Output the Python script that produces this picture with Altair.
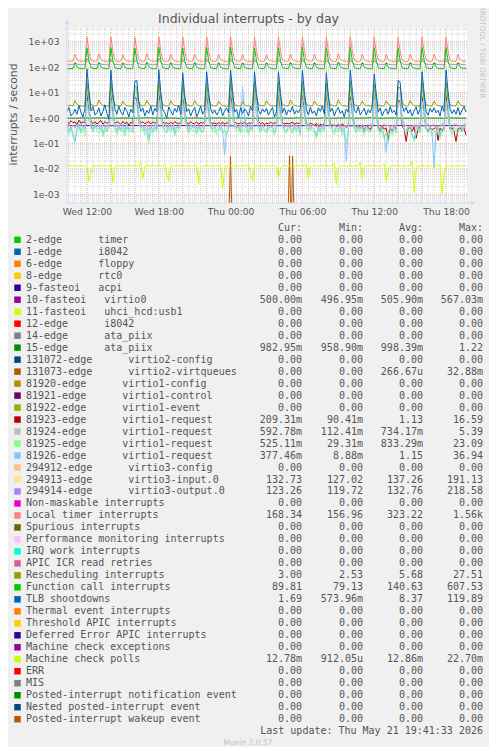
import altair as alt
import pandas as pd

# ---------------- time base (hours since Wed 00:00) ----------------
T0 = 10 + 20 / 60          # first sample Wed 10:20
STEP = 1 / 6               # 10-minute samples
N = 201
X_DOMAIN = [10 + 20 / 60, 43.75]
Y_DOMAIN = [4.55e-4, 3459]
X_TICKS = [12, 18, 24, 30, 36, 42]
Y_TICKS = [1e-3, 1e-2, 1e-1, 1e0, 1e1, 1e2, 1e3]

# ---------------- series (10-min grid) ----------------
LOCAL_TIMER = [
    172, 170, 174, 171,
    320, 195, 174, 171, 169, 172,
    1480, 430, 188, 173, 170, 168,
    335, 198, 176, 170, 172, 169,
    1520, 410, 185, 171, 169, 170,
    310, 192, 175, 172, 170, 168,
    1450, 450, 190, 174, 171, 169,
    340, 200, 176, 171, 168, 170,
    1540, 420, 186, 172, 170, 167,
    325, 196, 174, 170, 169, 171,
    1490, 440, 187, 173, 169, 168,
    330, 199, 175, 171, 170, 169,
    1510, 425, 184, 172, 168, 170,
    320, 195, 176, 170, 169, 168,
    1560, 445, 189, 174, 170, 169,
    315, 190, 173, 170, 168, 167,
    1470, 415, 185, 171, 169, 170,
    310, 193, 174, 171, 168, 169,
    1500, 430, 186, 172, 170, 168,
    330, 198, 175, 170, 169, 171,
    1530, 440, 188, 173, 170, 169,
    325, 196, 174, 171, 168, 170,
    1480, 420, 185, 172, 169, 168,
    340, 200, 176, 172, 170, 169,
    1510, 435, 187, 171, 169, 170,
    320, 194, 175, 170, 168, 169,
    1490, 425, 186, 172, 170, 168,
    315, 192, 174, 171, 169, 170,
    1460, 410, 184, 171, 168, 169,
    330, 197, 175, 170, 169, 168,
    1520, 445, 188, 173, 170, 169,
    325, 195, 174, 171, 168, 170,
    1500, 430, 186, 172, 169, 168,
    320, 196, 175, 170, 168,
]

FUNCTION_CALL = [
    88, 86, 89, 87,
    150, 101, 91, 88, 86, 88,
    575, 182, 96, 90, 88, 87,
    155, 103, 92, 89, 87, 88,
    590, 178, 95, 89, 87, 86,
    148, 100, 90, 88, 87, 89,
    560, 190, 98, 91, 88, 87,
    158, 104, 92, 88, 86, 88,
    600, 185, 95, 90, 87, 86,
    150, 101, 91, 88, 87, 88,
    570, 180, 96, 89, 88, 87,
    152, 102, 90, 88, 86, 87,
    585, 183, 95, 90, 87, 88,
    149, 100, 91, 87, 86, 88,
    607, 188, 97, 90, 88, 86,
    146, 99, 90, 88, 87, 87,
    565, 179, 95, 89, 87, 88,
    151, 102, 91, 88, 86, 87,
    580, 184, 96, 90, 88, 87,
    156, 103, 92, 89, 87, 88,
    595, 186, 97, 90, 87, 86,
    150, 101, 90, 88, 86, 88,
    570, 181, 95, 89, 88, 87,
    160, 105, 92, 88, 87, 88,
    588, 184, 96, 90, 87, 86,
    149, 100, 91, 88, 86, 87,
    575, 182, 95, 89, 88, 87,
    147, 99, 90, 88, 87, 88,
    555, 176, 94, 89, 87, 86,
    153, 102, 91, 88, 86, 87,
    598, 188, 97, 90, 88, 87,
    151, 101, 90, 88, 87, 88,
    585, 183, 96, 90, 87, 88,
    150, 102, 91, 89, 90,
]

VIRTIO3_INPUT = [
    134, 133, 135, 134,
    152, 139, 135, 134, 133, 133,
    186, 146, 137, 134, 133, 134,
    150, 138, 135, 133, 134, 133,
    183, 145, 136, 134, 133, 133,
    153, 139, 134, 133, 133, 134,
    176, 168, 140, 135, 134, 133,
    151, 138, 135, 134, 133, 133,
    191, 147, 137, 134, 133, 134,
    149, 138, 135, 133, 133, 134,
    180, 144, 136, 134, 133, 133,
    152, 139, 135, 134, 133, 133,
    184, 146, 136, 134, 134, 133,
    150, 138, 135, 133, 133, 134,
    188, 147, 137, 134, 133, 133,
    148, 137, 134, 133, 133, 134,
    182, 145, 136, 134, 133, 133,
    151, 138, 135, 133, 133, 134,
    183, 146, 136, 134, 133, 133,
    153, 139, 135, 134, 133, 133,
    187, 147, 137, 134, 133, 134,
    150, 138, 135, 133, 133, 133,
    181, 144, 136, 134, 133, 134,
    154, 140, 135, 134, 133, 133,
    185, 146, 137, 134, 133, 133,
    149, 138, 134, 133, 133, 134,
    179, 143, 136, 133, 133, 133,
    150, 138, 135, 134, 133, 133,
    172, 165, 139, 135, 134, 133,
    151, 139, 135, 133, 133, 134,
    186, 147, 137, 134, 133, 133,
    150, 138, 135, 134, 133, 133,
    184, 145, 136, 134, 133, 134,
    150, 138, 134, 133, 133,
]

VIRTIO3_OUTPUT = [
    124, 123, 125, 124,
    150, 131, 125, 124, 123, 124,
    212, 156, 129, 125, 124, 123,
    152, 132, 126, 124, 123, 124,
    205, 152, 128, 125, 124, 124,
    148, 130, 125, 124, 123, 123,
    190, 182, 140, 127, 124, 124,
    153, 132, 126, 124, 124, 123,
    218, 158, 129, 125, 124, 123,
    149, 131, 125, 124, 123, 124,
    200, 150, 128, 125, 124, 124,
    151, 131, 125, 124, 123, 123,
    207, 154, 129, 125, 124, 124,
    150, 130, 125, 124, 123, 124,
    215, 158, 130, 125, 124, 123,
    147, 130, 125, 124, 123, 124,
    203, 152, 128, 125, 124, 123,
    152, 131, 126, 124, 123, 124,
    206, 154, 128, 125, 124, 124,
    153, 132, 125, 124, 123, 123,
    211, 157, 129, 125, 124, 124,
    149, 130, 125, 124, 123, 124,
    201, 150, 128, 124, 124, 123,
    155, 133, 126, 124, 123, 124,
    209, 155, 129, 125, 124, 123,
    148, 130, 125, 124, 123, 124,
    198, 149, 127, 125, 124, 123,
    150, 131, 125, 124, 123, 124,
    186, 178, 138, 126, 124, 123,
    151, 131, 125, 124, 123, 124,
    213, 157, 129, 125, 124, 124,
    150, 130, 125, 124, 123, 123,
    207, 154, 128, 125, 124, 123,
    151, 131, 125, 124, 123,
]

RESCHEDULING = [
    3.1, 3.0, 3.2, 3.0,
    4.8, 3.5, 3.1, 3.0, 2.9, 3.0,
    26, 6.3, 3.4, 3.1, 3.0, 3.1,
    5.0, 3.6, 3.1, 3.0, 3.0, 2.9,
    24, 6.0, 3.3, 3.1, 3.0, 3.0,
    4.6, 3.4, 3.1, 3.0, 2.9, 3.0,
    18, 16, 4.5, 3.2, 3.0, 3.1,
    4.9, 3.5, 3.1, 3.0, 3.0, 2.9,
    27.5, 6.5, 3.4, 3.1, 3.0, 3.0,
    4.7, 3.5, 3.1, 3.0, 2.9, 3.0,
    22, 5.8, 3.3, 3.1, 3.0, 3.1,
    4.8, 3.4, 3.1, 3.0, 3.0, 2.9,
    25, 6.1, 3.3, 3.1, 3.0, 3.0,
    4.6, 3.5, 3.1, 3.0, 2.9, 3.0,
    27, 6.4, 3.4, 3.1, 3.0, 3.0,
    4.5, 3.4, 3.0, 3.0, 2.9, 3.0,
    24, 6.0, 3.3, 3.1, 3.0, 3.1,
    4.8, 3.5, 3.1, 3.0, 3.0, 2.9,
    25, 6.2, 3.4, 3.1, 3.0, 3.0,
    5.1, 3.6, 3.1, 3.0, 2.9, 3.0,
    26, 6.3, 3.4, 3.1, 3.0, 3.0,
    4.7, 3.4, 3.1, 3.0, 3.0, 2.9,
    23, 5.9, 3.3, 3.1, 3.0, 3.0,
    5.2, 3.6, 3.1, 3.0, 2.9, 3.0,
    25, 6.2, 3.3, 3.1, 3.0, 3.1,
    4.6, 3.4, 3.1, 3.0, 3.0, 2.9,
    21, 5.6, 3.2, 3.0, 3.0, 3.0,
    4.7, 3.5, 3.1, 3.0, 2.9, 3.0,
    17, 15, 4.2, 3.2, 3.0, 3.0,
    4.8, 3.5, 3.1, 3.0, 3.0, 2.9,
    26, 6.3, 3.4, 3.1, 3.0, 3.0,
    4.6, 3.4, 3.1, 3.0, 2.9, 3.0,
    25, 6.1, 3.3, 3.1, 3.0, 3.0,
    4.7, 3.4, 3.1, 3.0, 3.0,
]

TLB = [
    1.8, 2.6, 1.2, 1.5,
    2.2, 1.4, 3.1, 1.7, 1.1, 2.4,
    85, 12, 1.9, 2.8, 1.3, 1.6,
    2.5, 1.2, 1.8, 3.3, 1.5, 0.9,
    77, 9, 2.3, 1.4, 2.9, 1.7,
    1.3, 2.6, 1.9, 1.1, 2.2, 1.6,
    28, 30, 4, 1.8, 2.5, 1.2,
    2.0, 1.5, 3.0, 1.3, 2.4, 1.8,
    80, 11, 2.1, 1.6, 1.0, 2.7,
    1.9, 1.3, 2.4, 1.7, 3.2, 1.4,
    60, 8, 1.8, 2.3, 1.2, 1.9,
    2.6, 1.1, 1.7, 2.9, 1.4, 2.0,
    66, 10, 2.4, 1.5, 2.1, 1.3,
    1.8, 2.7, 1.2, 1.9, 2.5, 1.6,
    77, 12, 1.7, 2.2, 1.0, 2.6,
    1.5, 2.3, 1.8, 1.2, 2.8, 1.9,
    66, 9, 2.0, 1.4, 2.3, 1.7,
    2.4, 1.3, 1.9, 2.6, 1.1, 1.8,
    66, 10, 1.6, 2.5, 1.3, 2.1,
    1.7, 2.9, 1.4, 2.0, 1.6, 2.4,
    77, 11, 2.2, 1.3, 2.7, 1.5,
    1.9, 1.2, 2.5, 1.8, 3.0, 1.4,
    60, 8, 1.8, 2.4, 1.2, 2.0,
    2.6, 1.5, 1.9, 1.1, 2.3, 1.7,
    77, 12, 2.0, 1.6, 2.8, 1.3,
    1.8, 2.4, 1.3, 2.1, 1.6, 2.9,
    54, 9, 1.7, 2.5, 1.2, 1.9,
    2.3, 1.4, 2.8, 1.6, 2.0, 1.3,
    31, 25, 3, 1.8, 2.6, 1.5,
    2.1, 1.2, 1.9, 2.7, 1.4, 2.2,
    66, 10, 1.8, 1.3, 2.4, 1.7,
    2.5, 1.6, 2.0, 1.2, 2.9, 1.8,
    77, 11, 2.3, 1.5, 2.1, 1.4,
    2.6, 1.3, 2.0, 2.8, 1.7,
]

REQ_81923 = [
    0.72, 0.6, 0.78, 0.65,
    0.7, 0.55, 0.82, 0.62, 0.7, 0.66,
    9.5, 2.1, 0.75, 0.6, 0.72, 0.58,
    0.68, 0.8, 0.56, 0.72, 0.6, 0.74,
    8.2, 1.6, 0.62, 0.7, 0.66, 0.55,
    0.74, 0.6, 0.7, 0.52, 0.68, 0.61,
    6.5, 5.8, 0.9, 0.64, 0.7, 0.6,
    0.66, 0.72, 0.58, 0.7, 0.63, 0.68,
    11, 2.4, 0.7, 0.6, 0.66, 0.57,
    0.7, 0.58, 0.72, 0.64, 0.6, 0.69,
    7.5, 1.8, 0.66, 0.58, 0.72, 0.62,
    0.6, 0.7, 0.55, 0.68, 0.62, 0.7,
    8.8, 2.0, 0.68, 0.6, 0.64, 0.57,
    0.66, 0.6, 0.7, 0.58, 0.65, 0.62,
    9.2, 2.2, 0.7, 0.62, 0.58, 0.66,
    0.6, 0.68, 0.55, 0.64, 0.6, 0.7,
    16, 3.0, 0.72, 0.6, 0.66, 0.55,
    0.64, 0.58, 0.7, 0.6, 0.66, 0.6,
    8.0, 1.9, 0.66, 0.58, 0.62, 0.6,
    0.62, 0.7, 0.56, 0.64, 0.6, 0.66,
    7.8, 1.7, 0.6, 0.55, 0.62, 0.58,
    0.5, 0.62, 0.45, 0.58, 0.52, 0.6,
    9.0, 2.0, 0.58, 0.5, 0.55, 0.48,
    0.55, 0.46, 0.6, 0.5, 0.42, 0.56,
    6.8, 1.5, 0.5, 0.44, 0.52, 0.4,
    0.48, 0.3, 0.52, 0.44, 0.35, 0.5,
    12, 2.5, 0.45, 0.3, 0.48, 0.36,
    0.4, 0.14, 0.42, 0.3, 0.45, 0.38,
    5.5, 4.2, 0.5, 0.35, 0.12, 0.4,
    0.42, 0.3, 0.45, 0.16, 0.38, 0.44,
    7.2, 1.6, 0.4, 0.3, 0.42, 0.35,
    0.38, 0.45, 0.13, 0.4, 0.32, 0.42,
    8.5, 1.8, 0.36, 0.42, 0.3, 0.12,
    0.38, 0.42, 0.3, 0.4, 0.21,
]

REQ_81924 = [
    0.45, 0.6, 0.38, 0.52,
    0.4, 0.55, 0.35, 0.6, 0.48, 0.42,
    4.5, 1.2, 0.5, 0.38, 0.6, 0.45,
    0.52, 0.36, 0.58, 0.44, 0.5, 0.4,
    5.0, 1.1, 0.42, 0.55, 0.37, 0.6,
    0.48, 0.4, 0.62, 0.35, 0.5, 0.45,
    3.8, 3.2, 0.6, 0.42, 0.5, 0.38,
    0.55, 0.33, 0.5, 0.46, 0.6, 0.4,
    5.2, 1.3, 0.48, 0.6, 0.4, 0.52,
    0.44, 0.58, 0.36, 0.5, 0.42, 0.55,
    4.2, 1.0, 0.5, 0.38, 0.56, 0.45,
    0.6, 0.4, 0.52, 0.35, 0.48, 0.57,
    4.8, 1.2, 0.44, 0.58, 0.4, 0.5,
    0.5, 0.36, 0.6, 0.42, 0.55, 0.38,
    5.4, 1.4, 0.46, 0.52, 0.38, 0.6,
    0.42, 0.55, 0.4, 0.5, 0.36, 0.58,
    4.6, 1.1, 0.5, 0.42, 0.6, 0.44,
    0.56, 0.38, 0.5, 0.45, 0.6, 0.4,
    4.4, 1.0, 0.58, 0.4, 0.52, 0.46,
    0.38, 0.6, 0.44, 0.55, 0.4, 0.5,
    5.0, 1.2, 0.45, 0.58, 0.36, 0.52,
    0.5, 0.42, 0.6, 0.38, 0.55, 0.44,
    4.3, 1.1, 0.52, 0.4, 0.6, 0.42,
    0.46, 0.58, 0.36, 0.52, 0.44, 0.6,
    4.9, 1.3, 0.4, 0.55, 0.45, 0.38,
    0.58, 0.42, 0.5, 0.36, 0.6, 0.46,
    4.1, 1.0, 0.55, 0.4, 0.5, 0.6,
    0.42, 0.56, 0.38, 0.52, 0.45, 0.58,
    3.5, 3.0, 0.6, 0.44, 0.52, 0.4,
    0.5, 0.38, 0.58, 0.42, 0.55, 0.46,
    4.7, 1.2, 0.45, 0.6, 0.4, 0.52,
    0.56, 0.4, 0.5, 0.44, 0.6, 0.38,
    4.5, 1.1, 0.5, 0.42, 0.58, 0.6,
    0.45, 0.55, 0.4, 0.6, 0.59,
]

REQ_81925 = [
    0.35, 0.22, 0.4, 0.18,
    0.12, 0.3, 0.45, 0.25, 0.38, 0.2,
    18, 3.5, 0.4, 0.28, 0.5, 0.3,
    0.25, 0.42, 0.18, 0.35, 0.28, 0.45,
    15, 2.8, 0.35, 0.22, 0.4, 0.3,
    0.38, 0.2, 0.45, 0.28, 0.33, 0.25,
    9, 10, 1.2, 0.3, 0.4, 0.22,
    0.3, 0.1, 0.35, 0.25, 0.42, 0.28,
    20, 3.8, 0.42, 0.3, 0.25, 0.38,
    0.28, 0.4, 0.2, 0.35, 0.3, 0.45,
    14, 2.6, 0.38, 0.25, 0.42, 0.3,
    0.35, 0.22, 0.4, 0.3, 0.26, 0.42,
    16, 3.0, 0.4, 0.28, 0.35, 0.22,
    0.3, 0.42, 0.25, 0.38, 0.2, 0.35,
    23, 4.0, 0.45, 0.3, 0.38, 0.25,
    0.4, 0.28, 0.35, 0.22, 0.42, 0.3,
    17, 3.2, 0.38, 0.26, 0.4, 0.3,
    0.25, 0.4, 0.3, 0.35, 0.22, 0.38,
    15, 2.9, 0.42, 0.3, 0.25, 0.4,
    0.32, 0.24, 0.4, 0.28, 0.36, 0.2,
    19, 3.5, 0.35, 0.28, 0.42, 0.3,
    0.3, 0.15, 0.38, 0.25, 0.4, 0.28,
    14, 2.7, 0.4, 0.3, 0.22, 0.35,
    0.28, 0.38, 0.2, 0.33, 0.1, 0.3,
    18, 3.3, 0.36, 0.25, 0.4, 0.28,
    0.35, 0.22, 0.4, 0.3, 0.26, 0.38,
    13, 2.5, 0.3, 0.22, 0.35, 0.15,
    0.28, 0.1, 0.3, 0.22, 0.36, 0.25,
    8, 7, 1.0, 0.3, 0.25, 0.35,
    0.3, 0.2, 0.12, 0.28, 0.35, 0.25,
    16, 3.0, 0.35, 0.25, 0.3, 0.2,
    0.32, 0.25, 0.38, 0.15, 0.3, 0.28,
    17, 3.1, 0.3, 0.22, 0.35, 0.28,
    0.25, 0.35, 0.3, 0.4, 0.53,
]

REQ_81926 = [
    0.6, 0.3, 0.45, 0.25,
    0.11, 0.4, 0.6, 0.3, 0.5, 0.35,
    30, 5, 0.5, 0.3, 0.6, 0.4,
    0.35, 0.55, 0.25, 0.45, 0.3, 0.6,
    28, 4.5, 0.45, 0.3, 0.55, 0.35,
    0.5, 0.28, 0.6, 0.35, 0.4, 0.3,
    12, 14, 1.5, 0.4, 0.5, 0.3,
    0.4, 0.15, 0.5, 0.3, 0.55, 0.35,
    32, 5.5, 0.55, 0.35, 0.3, 0.5,
    0.35, 0.5, 0.25, 0.45, 0.38, 0.6,
    22, 4, 0.5, 0.3, 0.55, 0.4,
    0.45, 0.3, 0.5, 0.35, 0.28, 0.55,
    25, 4.2, 0.5, 0.35, 0.45, 0.3,
    0.4, 0.55, 0.3, 0.036, 0.25, 0.45,
    35, 6, 0.6, 0.4, 0.45, 0.3,
    17, 1.5, 0.4, 0.3, 0.55, 0.35,
    27, 4.5, 0.45, 0.3, 0.5, 0.38,
    0.3, 0.5, 0.4, 0.45, 0.28, 0.5,
    24, 4, 0.55, 0.35, 0.3, 0.5,
    0.4, 0.3, 0.5, 0.35, 0.45, 0.25,
    29, 5, 0.45, 0.35, 0.55, 0.4,
    0.35, 0.2, 0.45, 0.3, 0.5, 0.35,
    23, 4, 0.5, 0.38, 0.3, 0.45,
    0.35, 0.5, 0.28, 0.4, 0.02, 0.35,
    30, 5, 0.45, 0.3, 0.5, 0.35,
    0.45, 0.3, 0.5, 0.38, 0.3, 0.45,
    20, 3.5, 0.4, 0.3, 0.45, 0.2,
    0.045, 0.3, 0.4, 0.28, 0.45, 0.32,
    10, 9, 1.2, 0.4, 0.3, 0.45,
    0.4, 0.25, 0.15, 0.35, 0.45, 0.3,
    26, 4.5, 0.45, 0.3, 0.4, 0.25,
    0.011, 0.3, 0.45, 0.2, 0.4, 0.35,
    28, 5, 0.4, 0.3, 0.45, 0.35,
    0.3, 0.45, 0.35, 0.5, 0.38,
]

MCE_POLLS = [
    .0130, .0128, .0133, .0131,
    .0129, .0134, .0127, .0132, .0130, .0136,
    .0125, .0033, .0070, .0131, .0128, .0133,
    .0130, .0127, .0135, .0129, .0132, .0128,
    .0150, .0029, .0120, .0130, .0133, .0127,
    .0131, .0129, .0134, .0128, .0130, .0132,
    .0128, .0133, .0130, .0180, .0040, .0125,
    .0132, .0129, .0131, .0134, .0127, .0130,
    .0133, .0128, .0130, .0155, .0060, .0033,
    .0130, .0132, .0128, .0131, .0134, .0129,
    .0127, .0133, .0130, .0128, .0132, .0130,
    .0131, .0129, .0024, .0110, .0133, .0128,
    .0130, .0134, .0127, .0131, .0129, .0132,
    .0128, .0140, .0017, .0090, .0131, .0129,
    .0133, .0127, .0130, .0132, .0128, .0131,
    .0129, .0134, .0130, .0160, .0070, .0033,
    .0128, .0131, .0133, .0129, .0130, .0132,
    .0127, .0130, .0134, .0128, .0131, .0129,
    .0045, .0100, .0132, .0130, .0128, .0133,
    .0131, .0129, .0127, .0132, .0130, .0128,
    .0133, .0130, .0150, .0040, .0128, .0131,
    .0129, .0132, .0130, .0128, .0134, .0127,
    .0131, .0129, .0133, .0128, .0170, .0024,
    .0110, .0131, .0128, .0133, .0130, .0129,
    .0132, .0128, .0131, .0134, .0127, .0180,
    .0040, .0120, .0131, .0129, .0132, .0130,
    .0128, .0133, .0130, .0127, .0131, .0160,
    .0033, .0080, .0130, .0128, .0133, .0129,
    .0131, .0127, .0132, .0130, .0128, .0134,
    .0130, .0200, .0012, .0090, .0131, .0128,
    .0133, .0129, .0130, .0132, .0127, .0131,
    .0128, .0132, .0130, .0150, .0010, .0060,
    .0131, .0129, .0133, .0127, .0130, .0132,
    .0129, .0131, .0128, .0130, .0128,
]

# nearly flat series, 40-minute samples
EDGE15 = [
    0.99, 0.98, 1.00, 0.98, 1.01, 0.99, 0.97, 1.00, 0.99, 0.98,
    1.02, 0.99, 0.98, 1.00, 0.97, 0.99, 1.00, 0.98, 0.99, 1.01,
    0.98, 0.99, 1.00, 0.97, 0.99, 0.98, 1.00, 0.99, 0.98, 1.01,
    0.99, 0.97, 1.00, 0.98, 0.99, 1.00, 0.98, 0.99, 1.02, 0.98,
    0.99, 1.00, 0.97, 0.99, 0.98, 1.00, 0.99, 0.98, 1.00, 0.99,
    0.98,
]
VIRTIO0 = [
    0.50, 0.50, 0.51, 0.50, 0.50, 0.49, 0.50, 0.50, 0.51, 0.50,
    0.50, 0.50, 0.49, 0.50, 0.51, 0.50, 0.50, 0.50, 0.50, 0.51,
    0.50, 0.49, 0.50, 0.50, 0.50, 0.51, 0.50, 0.50, 0.49, 0.50,
    0.50, 0.51, 0.50, 0.50, 0.50, 0.49, 0.50, 0.51, 0.50, 0.50,
    0.50, 0.50, 0.51, 0.50, 0.49, 0.50, 0.50, 0.50, 0.51, 0.50,
    0.50,
]

# virtio2-virtqueues: two short bursts (0 elsewhere)
VQ_T = [23.89, 23.99, 24.09, 28.83, 28.92, 29.01, 29.10, 29.18, 29.27]
VQ_V = [0, 0.031, 0, 0, 0.033, 0, 0, 0.031, 0]
VQ_G = [0, 0, 0, 1, 1, 1, 2, 2, 2]

# ---------------- legend table ----------------
NAMES = [
    "2-edge      timer", "1-edge      i8042", "6-edge      floppy",
    "8-edge      rtc0", "9-fasteoi   acpi", "10-fasteoi   virtio0",
    "11-fasteoi   uhci_hcd:usb1", "12-edge      i8042", "14-edge      ata_piix",
    "15-edge      ata_piix", "131072-edge      virtio2-config",
    "131073-edge      virtio2-virtqueues", "81920-edge      virtio1-config",
    "81921-edge      virtio1-control", "81922-edge      virtio1-event",
    "81923-edge      virtio1-request", "81924-edge      virtio1-request",
    "81925-edge      virtio1-request", "81926-edge      virtio1-request",
    "294912-edge      virtio3-config", "294913-edge      virtio3-input.0",
    "294914-edge      virtio3-output.0", "Non-maskable interrupts",
    "Local timer interrupts", "Spurious interrupts",
    "Performance monitoring interrupts", "IRQ work interrupts",
    "APIC ICR read retries", "Rescheduling interrupts",
    "Function call interrupts", "TLB shootdowns", "Thermal event interrupts",
    "Threshold APIC interrupts", "Deferred Error APIC interrupts",
    "Machine check exceptions", "Machine check polls", "ERR", "MIS",
    "Posted-interrupt notification event", "Nested posted-interrupt event",
    "Posted-interrupt wakeup event",
]
Z = "0.00"
CUR = [Z, Z, Z, Z, Z, "500.00m", Z, Z, Z, "982.95m",
       Z, Z, Z, Z, Z, "209.31m", "592.78m", "525.11m", "377.46m", Z,
       "132.73", "123.26", Z, "168.34", Z, Z, Z, Z, "3.00", "89.81",
       "1.69", Z, Z, Z, Z, "12.78m", Z, Z, Z, Z, Z]
MIN = [Z, Z, Z, Z, Z, "496.95m", Z, Z, Z, "958.90m",
       Z, Z, Z, Z, Z, "90.41m", "112.41m", "29.31m", "8.88m", Z,
       "127.02", "119.72", Z, "156.96", Z, Z, Z, Z, "2.53", "79.13",
       "573.96m", Z, Z, Z, Z, "912.05u", Z, Z, Z, Z, Z]
AVG = [Z, Z, Z, Z, Z, "505.90m", Z, Z, Z, "998.39m",
       Z, "266.67u", Z, Z, Z, "1.13", "734.17m", "833.29m", "1.15", Z,
       "137.26", "132.76", Z, "323.22", Z, Z, Z, Z, "5.68", "140.63",
       "8.37", Z, Z, Z, Z, "12.86m", Z, Z, Z, Z, Z]
MAX = [Z, Z, Z, Z, Z, "567.03m", Z, Z, Z, "1.22",
       Z, "32.88m", Z, Z, Z, "16.59", "5.39", "23.09", "36.94", Z,
       "191.13", "218.58", Z, "1.56k", Z, Z, Z, Z, "27.51", "607.53",
       "119.89", Z, Z, Z, Z, "22.70m", Z, Z, Z, Z, Z]
HEADERS = ["Cur:", "Min:", "Avg:", "Max:"]
LAST_UPDATE = "Last update: Thu May 21 19:41:33 2026"

# ---------------- styles ----------------
PALETTE = ["#00CC00", "#0066B3", "#FF8000", "#FFCC00", "#330099", "#990099",
           "#CCFF00", "#FF0000", "#808080", "#008F00", "#00487D", "#B35A00",
           "#B38F00", "#6B006B", "#8FB300", "#B30000", "#BEBEBE", "#80FF80",
           "#80C9FF", "#FFC080", "#FFE680", "#AA80FF", "#EE00CC", "#FF8080",
           "#666600", "#FFBFFF", "#00FFCC", "#CC6699", "#999900"]
COLORS = [PALETTE[i % len(PALETTE)] for i in range(len(NAMES))]
FONT = "DejaVu Sans"
MONO = "DejaVu Sans Mono"
TXT = "#555555"
AXISC = "#CFD6F8"
W, H = 400, 175
NB = "\u00a0"

for arr in [LOCAL_TIMER, FUNCTION_CALL, VIRTIO3_INPUT, VIRTIO3_OUTPUT, RESCHEDULING,
            TLB, REQ_81923, REQ_81924, REQ_81925, REQ_81926, MCE_POLLS]:
    assert len(arr) == N, len(arr)

times = [T0 + i * STEP for i in range(N)]
coarse = [T0 + i * 4 * STEP for i in range(len(EDGE15))]

xs = alt.Scale(domain=X_DOMAIN, nice=False, zero=False)
ys = alt.Scale(type="log", domain=Y_DOMAIN, nice=False)
AX_X = alt.Axis(values=X_TICKS, title=None, grid=False, ticks=False, domain=False,
                labelExpr="(datum.value < 24 ? 'Wed ' : 'Thu ') + (datum.value % 24 < 10 ? '0' : '') + (datum.value % 24) + ':00'",
                labelFont=FONT, labelFontSize=9.2, labelColor=TXT, labelPadding=4,
                labelOverlap=False, labelFlush=False)
AX_Y = alt.Axis(values=Y_TICKS, title=None, grid=False, ticks=False, domain=False,
                labelExpr="'1e' + (datum.value >= 1 ? '+' : '-') + '0' + format(abs(log(datum.value) / LN10), '.0f')",
                labelFont=FONT, labelFontSize=9.2, labelColor=TXT, labelPadding=8,
                labelOverlap=False)

# ---------------- grid ----------------
minor_x = [10.5 + 0.5 * k for k in range(67)]
major_x = [12 + 2 * k for k in range(16)]
minor_y = [m * 10.0 ** e for e in range(-4, 4) for m in range(2, 10)
           if Y_DOMAIN[0] < m * 10.0 ** e < Y_DOMAIN[1]]
major_y = Y_TICKS

def vrules(vals, color):
    return alt.Chart(pd.DataFrame({"g": vals})).mark_rule(
        color=color, strokeWidth=1, strokeDash=[1, 1]).encode(
        x=alt.X("g:Q", scale=xs, axis=AX_X))

def hrules(vals, color):
    return alt.Chart(pd.DataFrame({"g": vals})).mark_rule(
        color=color, strokeWidth=1, strokeDash=[1, 1]).encode(
        y=alt.Y("g:Q", scale=ys, axis=AX_Y))

MINOR_C = "#D4D4D4"
MAJOR_C = "#EDB3B3"
layers = [vrules(minor_x, MINOR_C), hrules(minor_y, MINOR_C),
          vrules(major_x, MAJOR_C), hrules(major_y, MAJOR_C)]

# ---------------- series (drawn in legend order) ----------------
series = [
    (5, coarse, VIRTIO0), (9, coarse, EDGE15),
    (15, times, REQ_81923), (16, times, REQ_81924), (17, times, REQ_81925),
    (18, times, REQ_81926), (20, times, VIRTIO3_INPUT), (21, times, VIRTIO3_OUTPUT),
    (23, times, LOCAL_TIMER), (28, times, RESCHEDULING), (29, times, FUNCTION_CALL),
    (30, times, TLB), (35, times, MCE_POLLS),
]
for idx, ts, vs in series:
    if idx == 15:
        vq = pd.DataFrame({"t": VQ_T, "v": VQ_V, "grp": VQ_G})
        layers.append(
            alt.Chart(vq).transform_calculate(vv=f"max(datum.v, {Y_DOMAIN[0]})")
            .mark_line(color=COLORS[11], strokeWidth=1, clip=True)
            .encode(x=alt.X("t:Q", scale=xs, axis=AX_X),
                    y=alt.Y("vv:Q", scale=ys, axis=AX_Y),
                    detail="grp:N"))
    df = pd.DataFrame({"t": ts, "v": vs})
    layers.append(
        alt.Chart(df).mark_line(color=COLORS[idx], strokeWidth=1, clip=True)
        .encode(x=alt.X("t:Q", scale=xs, axis=AX_X),
                y=alt.Y("v:Q", scale=ys, axis=AX_Y)))

main = alt.layer(*layers)

# ---------------- legend & decorations ----------------
yrow = alt.Y("row:Q", scale=alt.Scale(domain=[0, 40], range=[211.8, 691.2]), axis=None)

def pad(s):
    return s if s[-1].isalpha() else s + NB

leg = pd.DataFrame({
    "row": list(range(len(NAMES))),
    "label": [n.replace(" ", NB) for n in NAMES],
    "color": COLORS,
    "cur": [pad(s) for s in CUR], "min": [pad(s) for s in MIN],
    "avg": [pad(s) for s in AVG], "max": [pad(s) for s in MAX],
})
COLX = {"cur": 235, "min": 296, "avg": 356, "max": 416}

deco = [
    alt.Chart(leg).mark_square(size=42, opacity=1).encode(
        x=alt.value(-49.5), y=yrow, color=alt.Color("color:N", scale=None)),
    alt.Chart(leg).mark_text(align="left", baseline="middle", font=MONO,
                             fontSize=10, color=TXT).encode(
        x=alt.value(-41), y=yrow, text="label:N"),
]
for col, xp in COLX.items():
    deco.append(alt.Chart(leg).mark_text(align="right", baseline="middle", font=MONO,
                                         fontSize=10, color=TXT).encode(
        x=alt.value(xp), y=yrow, text=f"{col}:N"))
hdr = pd.DataFrame({"row": [-1] * 4, "s": [h + NB + NB for h in HEADERS]})
for i, (col, xp) in enumerate(COLX.items()):
    deco.append(alt.Chart(hdr.iloc[[i]]).mark_text(
        align="right", baseline="middle", font=MONO, fontSize=10, color=TXT).encode(
        x=alt.value(xp), y=yrow, text="s:N"))
deco.append(alt.Chart(pd.DataFrame({"row": [41], "s": [LAST_UPDATE.replace(" ", NB)]}))
            .mark_text(align="right", baseline="middle", font=MONO, fontSize=10, color=TXT)
            .encode(x=alt.value(416), y=yrow, text="s:N"))
deco.append(alt.Chart(pd.DataFrame({"row": [42], "s": ["Munin 2.0.57"]}))
            .mark_text(align="center", baseline="middle", font=FONT, fontSize=7.5, color="#C0C0C0")
            .encode(x=alt.value(181), y=yrow, text="s:N"))

def label(text, x, y, **kw):
    return alt.Chart(pd.DataFrame({"s": [text]})).mark_text(**kw).encode(
        x=alt.value(x), y=alt.value(y), text="s:N")

deco += [
    label("Individual interrupts - by day", 181.5, -8.7, align="center", baseline="middle",
          font=FONT, fontSize=12.5, color=TXT),
    label("interrupts / second", -53, 86.5, align="center", baseline="middle",
          font=FONT, fontSize=10.8, color=TXT, angle=270),
    label("RRDTOOL / TOBI OETIKER", 415, 24, align="center", baseline="middle",
          font=FONT, fontSize=7.2, color="#C4C4C4", angle=90),
]
ax_df = pd.DataFrame({"a": [0]})
deco += [
    alt.Chart(ax_df).mark_rule(color=AXISC, strokeWidth=1).encode(
        x=alt.value(0), y=alt.value(-5), y2=alt.value(H)),
    alt.Chart(ax_df).mark_rule(color=AXISC, strokeWidth=1).encode(
        x=alt.value(0), x2=alt.value(W + 5), y=alt.value(H)),
    alt.Chart(ax_df).mark_point(shape="triangle-up", filled=True, size=22, color=AXISC,
                                opacity=1).encode(x=alt.value(0), y=alt.value(-6)),
    alt.Chart(ax_df).mark_point(shape="triangle-right", filled=True, size=22, color=AXISC,
                                opacity=1).encode(x=alt.value(W + 6), y=alt.value(H)),
]
legend = alt.layer(*deco)

chart = (
    alt.layer(main, legend)
    .resolve_scale(x="independent", y="independent")
    .properties(width=W, height=H,
                padding={"left": 59, "top": 20, "right": 22, "bottom": 544},
                autosize=alt.AutoSizeParams(type="none"),
                background="#F0F0F0")
    .configure_view(fill="white", strokeWidth=0)
)
chart.save("out.html", embed_options={"renderer": "svg", "actions": False})
